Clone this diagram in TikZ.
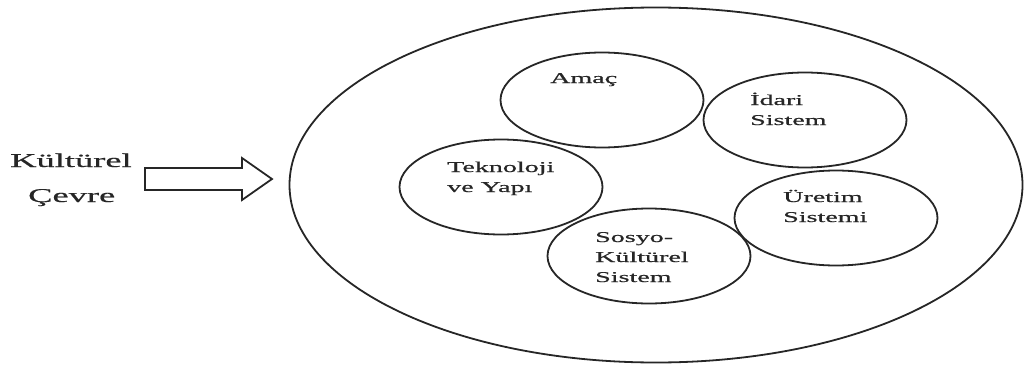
\documentclass[tikz,border=0pt]{standalone}
\usepackage{graphicx}
\usepackage{fontspec}
\setmainfont{Liberation Serif}
\newfontfamily\heavyserif[FakeBold=0.5]{Liberation Serif}
\usetikzlibrary{shapes.geometric,calc}
\newcommand\widetext[1]{\scalebox{1.87}[1]{#1}}
\newcommand\lines[1]{\widetext{\begin{tabular}[t]{@{}l@{}}#1\end{tabular}}}
\begin{document}
\begin{tikzpicture}[x=1pt,y=-1pt,
  ring/.style={draw=black!85, line width=1.8pt, ellipse, inner sep=0pt},
  part/.style={ring, minimum width=203pt, minimum height=95pt},
  lbl/.style={inner sep=0pt, anchor=base west, text=black!85,
              font=\heavyserif\fontsize{15}{20}\selectfont},
  side/.style={inner sep=0pt, anchor=base west, text=black!85,
               font=\heavyserif\fontsize{19.5}{24}\selectfont},
  blockarrow/.style={draw=black!85, line width=1.8pt, line join=miter}]
\useasboundingbox (0,0) rectangle (1025,369);

% organisation as a whole
\node[ring, minimum width=733pt, minimum height=355pt] (org) at (656,185) {};

% subsystems
\node[part] (amac)  at (602,100) {};
\node[part] (idari) at (805,120) {};
\node[part] (tekno) at (501,187) {};
\node[part] (uretim) at (836,218) {};
\node[part] (sosyo) at (649,256) {};

% subsystem labels
\node[lbl] (amac-t)   at (550,83)  {\lines{Amaç}};
\node[lbl] (idari-t)  at (750,105) {\lines{İdari\\Sistem}};
\node[lbl] (tekno-t)  at (447,172) {\lines{Teknoloji\\ve Yapı}};
\node[lbl] (uretim-t) at (783,202) {\lines{Üretim\\Sistemi}};
\node[lbl] (sosyo-t)  at (595,242) {\lines{Sosyo-\\Kültürel\\Sistem}};

% environment
\node[side] (env1) at (10,167) {\widetext{Kültürel}};
\node[side] (env2) at (28,202) {\widetext{Çevre}};

% block arrow from the environment towards the organisation
\coordinate (tail) at (145,179);
\coordinate (tip) at (272,179);
\draw[blockarrow] ($(tail)+(0,-11)$) -- (242,168) -- (242,158) -- (tip)
  -- (242,200) -- (242,190) -- ($(tail)+(0,11)$) -- cycle;
\end{tikzpicture}
\end{document}
